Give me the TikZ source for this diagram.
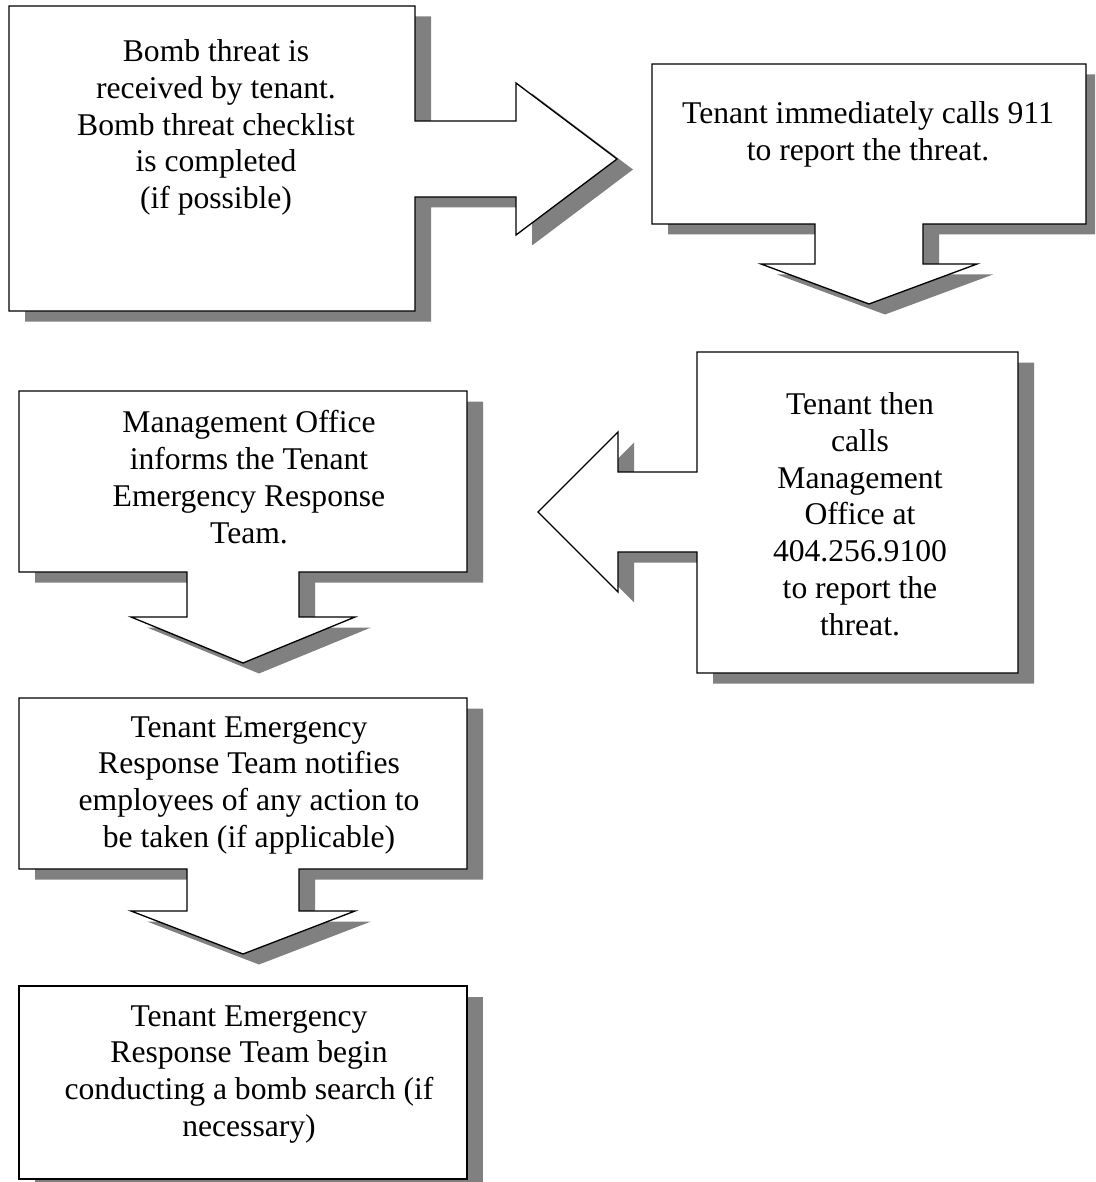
\documentclass[tikz,border=0pt]{standalone}
\usepackage{fontspec}
\setmainfont{Liberation Serif}
\definecolor{shadowgray}{HTML}{808080}

% outlines of the callout boxes, in pixel units
\newcommand{\pathreceived}{(9,6) -- (415,6) -- (415,121) -- (516,121) -- (516,83) -- (617,159) -- (516,235) -- (516,197) -- (415,197) -- (415,311) -- (9,311) -- cycle}
\newcommand{\pathcallnine}{(652,64) -- (1086,64) -- (1086,224) -- (923,224) -- (923,264) -- (977,264) -- (869,304) -- (761,264) -- (815,264) -- (815,224) -- (652,224) -- cycle}
\newcommand{\pathcallmgmt}{(697,352) -- (1018,352) -- (1018,673) -- (697,673) -- (697,552) -- (618,552) -- (618,592) -- (538,512) -- (618,432) -- (618,472) -- (697,472) -- cycle}
\newcommand{\pathinforms}{(19,391) -- (467,391) -- (467,572) -- (299,572) -- (299,617) -- (355,617) -- (243,663) -- (131,617) -- (187,617) -- (187,572) -- (19,572) -- cycle}
\newcommand{\pathnotifies}{(19,698) -- (467,698) -- (467,869) -- (299,869) -- (299,911) -- (355,911) -- (243,954) -- (131,911) -- (187,911) -- (187,869) -- (19,869) -- cycle}
\newcommand{\pathsearch}{(19,986) -- (467,986) -- (467,1179) -- (19,1179) -- cycle}

\begin{document}
\begin{tikzpicture}[x=0.02cm, y=-0.02cm,
		callout/.style={draw=black, fill=white, line width=0.75pt, line join=miter},
		dropfill/.style={fill=shadowgray, shift={(16,10.5)}},
		steptext/.style={anchor=north, align=center, inner sep=0pt, font=\fontsize{18}{21}\selectfont}]
	\clip (0,0) rectangle (1095,1182);

	% shadows
	\fill[dropfill] \pathreceived;
	\fill[dropfill] \pathcallnine;
	\fill[dropfill] \pathcallmgmt;
	\fill[dropfill] \pathinforms;
	\fill[dropfill] \pathnotifies;
	\fill[dropfill] \pathsearch;

	% boxes
	\filldraw[callout] \pathreceived;
	\filldraw[callout] \pathcallnine;
	\filldraw[callout] \pathcallmgmt;
	\filldraw[callout] \pathinforms;
	\filldraw[callout] \pathnotifies;
	\filldraw[callout] \pathsearch;

	\node[steptext] (received) at (216,39) {Bomb threat is\\received by tenant.\\Bomb threat checklist\\is completed\\(if possible)};
	\node[steptext] (callnine) at (868,101) {Tenant immediately calls 911\\to report the threat.};
	\node[steptext] (callmgmt) at (860,392) {Tenant then\\calls\\Management\\Office at\\404.256.9100\\to report the\\threat.};
	\node[steptext] (informs) at (249,410) {Management Office\\informs the Tenant\\Emergency Response\\Team.};
	\node[steptext] (notifies) at (249,716) {Tenant Emergency\\Response Team notifies\\employees of any action to\\be taken (if applicable)};
	\node[steptext] (search) at (249,1005) {Tenant Emergency\\Response Team begin\\conducting a bomb search (if\\necessary)};
\end{tikzpicture}
\end{document}
